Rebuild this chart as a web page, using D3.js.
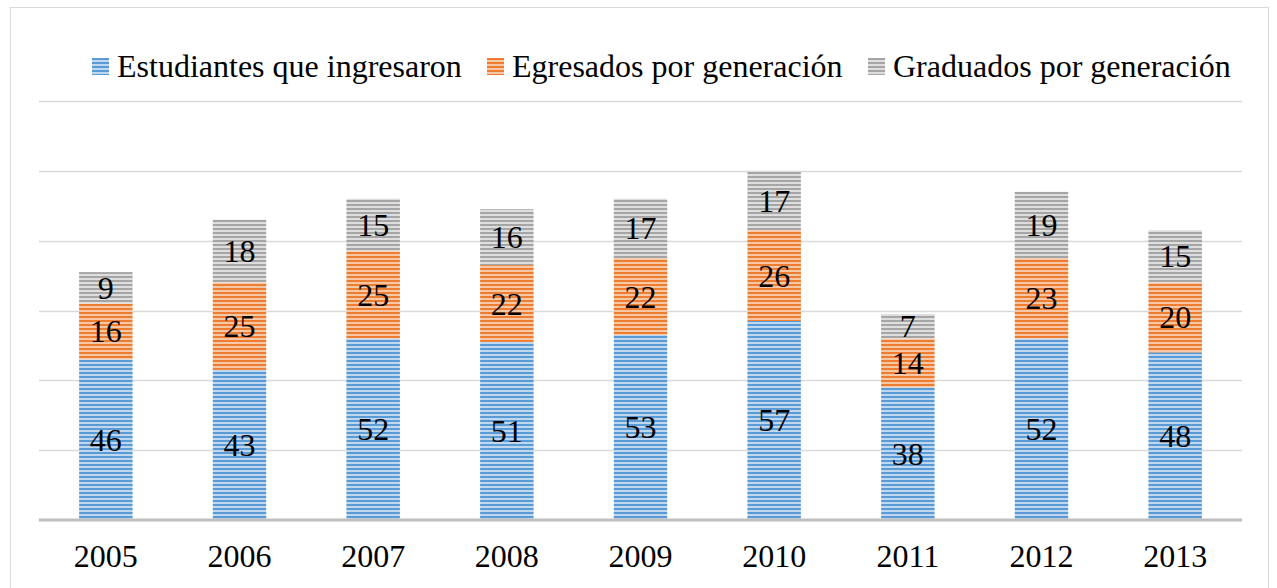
<!DOCTYPE html>
<html>
<head>
<meta charset="utf-8">
<script src="https://cdn.jsdelivr.net/npm/d3@7"></script>
<style>
  html, body { margin: 0; padding: 0; background: #fff; }
  svg { display: block; }
  text { font-family: "Liberation Serif", "Times New Roman", serif; fill: #000; }
</style>
</head>
<body>
<div id="chart"></div>
<script>
// Cohort data by entry year
const years = ["2005", "2006", "2007", "2008", "2009", "2010", "2011", "2012", "2013"];
const ingresaron = [46, 43, 52, 51, 53, 57, 38, 52, 48];
const egresados = [16, 25, 25, 22, 22, 26, 14, 23, 20];
const graduados = [9, 18, 15, 16, 17, 17, 7, 19, 15];
const seriesNames = ["Estudiantes que ingresaron", "Egresados por generación", "Graduados por generación"];
const yTicks = [0, 20, 40, 60, 80, 100, 120];

const W = 1277, H = 588;
const margin = { left: 39, right: 35, top: 101, bottom: 68 };
const FONT = '"Liberation Serif", "Times New Roman", serif';
const FS = "32px";

const palette = [
  { dark: "#5b9bd5", light: "#c0d8ef" },
  { dark: "#ed7d31", light: "#f8c8a6" },
  { dark: "#a5a5a5", light: "#dedede" }
];

const svg = d3.select("#chart").append("svg").attr("width", W).attr("height", H);

// Horizontal-stripe fills, one per series
const defs = svg.append("defs");
palette.forEach((c, i) => {
  const p = defs.append("pattern")
    .attr("id", "stripe" + i)
    .attr("patternUnits", "userSpaceOnUse")
    .attr("width", 8).attr("height", 4);
  p.append("rect").attr("width", 8).attr("height", 4).attr("fill", c.light);
  p.append("rect").attr("y", 0).attr("width", 8).attr("height", 2).attr("fill", c.dark);
});

// Chart frame
svg.append("rect")
  .attr("x", 10.5).attr("y", 7.5).attr("width", 1258).attr("height", 600)
  .attr("fill", "none").attr("stroke", "#d9d9d9").attr("stroke-width", 1);

const x = d3.scaleBand().domain(years)
  .range([margin.left, W - margin.right]).paddingInner(0.6).paddingOuter(0.3);
const y = d3.scaleLinear().domain([0, 120]).range([H - margin.bottom, margin.top]);

// Gridlines
svg.append("g").selectAll("line").data(yTicks.filter(d => d > 0)).join("line")
  .attr("x1", margin.left).attr("x2", W - margin.right)
  .attr("y1", d => Math.round(y(d)) + 0.5).attr("y2", d => Math.round(y(d)) + 0.5)
  .attr("stroke", "#d9d9d9").attr("stroke-width", 1.3);

const rows = years.map((yr, i) => ({ year: yr, s0: ingresaron[i], s1: egresados[i], s2: graduados[i] }));
const stack = d3.stack().keys(["s0", "s1", "s2"])(rows);

const layers = svg.append("g").selectAll("g").data(stack).join("g")
  .attr("fill", (d, i) => `url(#stripe${i})`);

layers.selectAll("rect").data(d => d).join("rect")
  .attr("x", d => x(d.data.year))
  .attr("width", x.bandwidth())
  .attr("y", d => y(d[1]))
  .attr("height", d => y(d[0]) - y(d[1]));

// Value labels centred in each segment
const labels = svg.append("g");
stack.forEach(layer => {
  labels.selectAll(null).data(layer).join("text")
    .attr("x", d => x(d.data.year) + x.bandwidth() / 2)
    .attr("y", d => (y(d[0]) + y(d[1])) / 2 + 11)
    .attr("text-anchor", "middle")
    .style("font-family", FONT)
    .style("font-size", FS)
    .text(d => d[1] - d[0]);
});

// Category axis
const xAxis = svg.append("g")
  .attr("transform", `translate(0,${y(0)})`)
  .call(d3.axisBottom(x).tickSize(0));
xAxis.select(".domain").attr("stroke", "#bfbfbf").attr("stroke-width", 3)
  .attr("d", `M${margin.left},0H${W - margin.right}`);
xAxis.selectAll("text")
  .attr("y", 47).attr("dy", null)
  .style("font-size", FS)
  .style("font-family", FONT);

// Legend
const legendX = [92, 487, 868];
const legend = svg.append("g");
seriesNames.forEach((name, i) => {
  const g = legend.append("g").attr("transform", `translate(${legendX[i]},58)`);
  g.append("rect").attr("width", 17).attr("height", 17).attr("fill", `url(#stripe${i})`);
  g.append("text").attr("x", 25).attr("y", 19)
    .style("font-family", FONT)
    .style("font-size", FS).text(name);
});
</script>
</body>
</html>
